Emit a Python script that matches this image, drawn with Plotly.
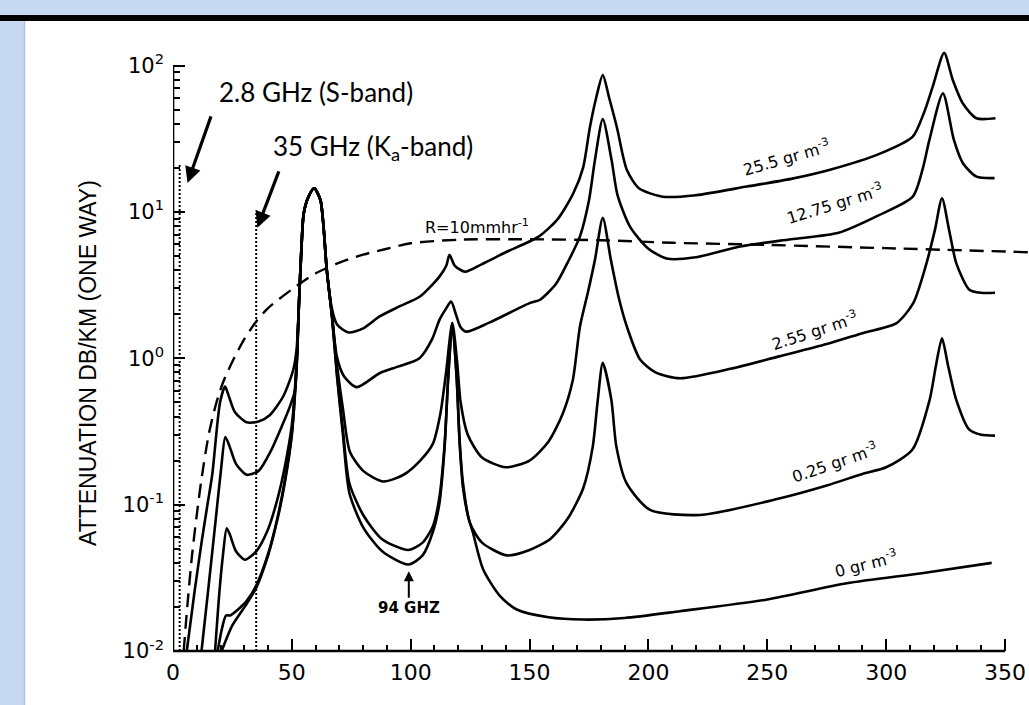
import plotly.graph_objects as go

# ---------------- data ----------------
# Rain, R = 10 mm/hr (dashed)
freq_rain = [4.5, 6, 8, 10, 12, 15, 18, 21, 25, 30, 35, 40, 50, 60, 70, 80, 90, 100, 120, 150, 180, 210, 250, 300, 360]
att_rain = [0.01, 0.02, 0.045, 0.085, 0.15, 0.3, 0.48, 0.68, 0.95, 1.35, 1.78, 2.2, 2.95, 3.8, 4.5, 5.1, 5.6, 6.1, 6.45, 6.5, 6.4, 6.15, 5.95, 5.65, 5.3]

# 0 gr m^-3 (dry air)
freq_0 = [20.5, 25, 31, 35, 40, 44, 47, 50, 52, 53, 54, 55, 57, 59.4, 62, 63.2, 64.7, 66.8, 69, 71.5, 74.2,
          80, 88, 99, 105, 109.3, 112, 114.2, 115.8, 117.5, 119.3, 120.6, 122, 124, 126.1, 130.5, 137.6,
          144.6, 158, 172.6, 190, 213.3, 250, 283.4, 315, 344.4]
att_0 = [0.01, 0.015, 0.021, 0.027, 0.045, 0.08, 0.14, 0.3, 0.9, 2.4, 5.5, 9.8, 12.7, 14.5, 12.1, 8.4, 4.0, 2.0,
         0.75, 0.3, 0.12, 0.07, 0.048, 0.039, 0.045, 0.065, 0.1, 0.24, 0.75, 1.74, 0.75, 0.26, 0.13, 0.085,
         0.065, 0.036, 0.0237, 0.0192, 0.017, 0.0164, 0.0168, 0.0187, 0.0225, 0.029, 0.034, 0.04]

# 0.25 gr m^-3
freq_025 = [18.8, 20.5, 22.3, 24, 27, 31, 35, 40, 44, 47, 50, 52, 53, 54, 55, 57, 59.4, 62, 63.2, 64.7, 66.8,
            69, 71.5, 74.2, 80, 88, 99, 105, 109.3, 112, 114.2, 115.8, 117.5, 119.3, 120.6, 122, 124.9, 130,
            140.4, 150, 158.6, 166, 172.6, 176.6, 178.7, 180.8, 184.4, 186.5, 190.8, 200.7, 221.7, 255, 275,
            290, 300, 311, 318.3, 321, 323.5, 326, 329.5, 335, 340, 345.8]
att_025 = [0.01, 0.014, 0.0175, 0.0175, 0.019, 0.022, 0.028, 0.046, 0.082, 0.145, 0.31, 0.9, 2.4, 5.5, 9.8,
           12.7, 14.5, 12.1, 8.4, 4.0, 2.0, 0.78, 0.32, 0.14, 0.085, 0.058, 0.049, 0.055, 0.071, 0.11, 0.25,
           0.75, 1.74, 0.75, 0.27, 0.14, 0.075, 0.055, 0.045, 0.049, 0.058, 0.08, 0.13, 0.25, 0.52, 0.93,
           0.52, 0.25, 0.14, 0.092, 0.085, 0.11, 0.135, 0.162, 0.18, 0.237, 0.52, 0.9, 1.37, 0.9, 0.52,
           0.325, 0.3, 0.296]

# 2.55 gr m^-3
freq_255 = [17.7, 19.5, 21, 22.6, 24, 26.5, 30.3, 35, 40, 44, 47, 50, 52, 53, 54, 55, 57, 59.4, 62, 63.2,
            64.7, 66.8, 69, 71.5, 74.4, 80, 88.5, 97, 104, 109.3, 112.5, 114.8, 117.5, 119.5, 121, 124, 130,
            140, 150, 158, 164, 168.2, 171.2, 174.5, 177.5, 180.8, 184.2, 187.5, 190.9, 196.5, 203, 213.3,
            235, 255, 275, 290.4, 304.4, 311.4, 317, 320.5, 323.5, 326.5, 329.5, 335, 340, 345.8]
att_255 = [0.01, 0.025, 0.045, 0.069, 0.062, 0.048, 0.042, 0.048, 0.068, 0.11, 0.18, 0.35, 0.95, 2.4, 5.5,
           9.8, 12.7, 14.5, 12.1, 8.4, 4.0, 2.0, 0.9, 0.45, 0.23, 0.17, 0.144, 0.16, 0.2, 0.26, 0.42, 0.78,
           1.74, 0.95, 0.5, 0.3, 0.21, 0.18, 0.2, 0.27, 0.42, 0.71, 1.65, 2.8, 4.7, 9.1, 4.7, 2.6, 1.65, 0.98,
           0.8, 0.73, 0.85, 1.03, 1.25, 1.49, 1.74, 2.38, 4.47, 7.5, 12.4, 7.5, 4.47, 2.94, 2.8, 2.8]

# 12.75 gr m^-3
freq_1275 = [12, 15, 18, 20.3, 22, 23.8, 26.5, 31, 36, 41, 46, 49, 51.3, 52.3, 53, 54, 55, 57, 59.4, 62,
             63.2, 64.7, 66.8, 68.9, 72, 77.3, 86.9, 95, 103.7, 109, 112.1, 115, 117, 119, 120.8, 123.3,
             133, 150, 154.2, 161, 166, 171.2, 175, 177.5, 180.8, 184.5, 187, 192.3, 200, 207.7, 220, 238.5,
             260, 280, 297, 311.2, 315.5, 318.2, 323.9, 328.5, 332.3, 338, 345.6]
att_1275 = [0.01, 0.028, 0.08, 0.18, 0.29, 0.25, 0.19, 0.16, 0.17, 0.23, 0.35, 0.46, 0.6, 1.1, 2.4, 5.5, 9.8,
            12.7, 14.5, 12.1, 8.4, 4.0, 2.03, 1.03, 0.75, 0.635, 0.79, 0.88, 1.0, 1.35, 1.83, 2.2, 2.44, 2.0,
            1.65, 1.52, 1.75, 2.38, 2.5, 3.2, 4.5, 6.8, 12, 22.6, 43, 22.6, 13, 7.9, 5.6, 4.8, 4.9, 5.8, 6.5,
            7.2, 9.5, 12.7, 20, 31, 64.5, 31, 21.5, 17.4, 17]

# 25.5 gr m^-3
freq_255b = [5.8, 9, 12, 14.5, 16.5, 19.8, 21.9, 23.5, 26, 31, 36, 40.8, 46.4, 50.6, 52, 53, 54, 55, 57, 59.4,
             62, 63.2, 64.7, 66.8, 69, 73.8, 80, 86.9, 95, 103.9, 112, 115, 116.3, 118.5, 122.9, 130, 140,
             154, 162, 168.4, 172.5, 175.4, 178, 180.8, 183.5, 186.7, 190.9, 196, 206, 220, 241.4, 260, 276.4,
             297.4, 311.2, 316, 319.6, 324.4, 328, 332.3, 338, 346]
att_255b = [0.01, 0.025, 0.055, 0.1, 0.16, 0.5, 0.64, 0.55, 0.43, 0.365, 0.37, 0.41, 0.55, 0.835, 1.15, 2.4,
            5.5, 9.8, 12.7, 14.5, 12.1, 8.4, 4.0, 2.2, 1.7, 1.5, 1.6, 1.93, 2.25, 2.64, 3.6, 4.3, 5.1, 4.3,
            3.9, 4.4, 5.3, 6.8, 9, 13.4, 20, 38, 60, 86, 60, 38, 19.4, 14.5, 12.7, 13, 14.9, 16.8, 19.4, 25,
            32.7, 48, 71.7, 122, 80, 55, 43.6, 43.6]

series = [
    ("0 gr m-3", freq_0, att_0),
    ("0.25 gr m-3", freq_025, att_025),
    ("2.55 gr m-3", freq_255, att_255),
    ("12.75 gr m-3", freq_1275, att_1275),
    ("25.5 gr m-3", freq_255b, att_255b),
]

x_ticks = [0, 50, 100, 150, 200, 250, 300, 350]
x_minor = [v for v in range(10, 350, 10) if v % 50 != 0]
y_ticks = [0.01, 0.1, 1, 10, 100]
y_ticktext = ["10<sup>-2</sup>", "10<sup>-1</sup>", "10<sup>0</sup>", "10<sup>1</sup>", "10<sup>2</sup>"]
y_minor = [m * d for d in [0.01, 0.1, 1, 10] for m in range(2, 10)]

# radar frequency markers: (frequency GHz, top of dotted line dB/km)
radar_marks = [(2.8, 21.6), (35, 10.2)]

# curve labels: text, frequency, log10(attenuation), angle
curve_labels = [
    ("25.5 gr m<sup>-3</sup>", 258.0, 1.37, -16),
    ("12.75 gr m<sup>-3</sup>", 278.3, 1.06, -17),
    ("2.55 gr m<sup>-3</sup>", 270.0, 0.19, -18),
    ("0.25 gr m<sup>-3</sup>", 278.3, -0.71, -19),
    ("0 gr m<sup>-3</sup>", 291.7, -1.40, -14),
]

# ---------------- figure ----------------
W, H = 1029, 705
ML, MR, MT, MB = 173, 0, 21, 54
X_MAX = 360.1
Y_LOG_RANGE = [-2, 2.304]
BLUE = "#C6D9F1"

fig = go.Figure()

for name, f, a in series:
    fig.add_trace(go.Scatter(x=f, y=a, mode="lines", name=name,
                             line=dict(color="black", width=2.6, shape="spline", smoothing=0.7)))

fig.add_trace(go.Scatter(x=freq_rain, y=att_rain, mode="lines", name="R=10 mm/hr",
                         line=dict(color="black", width=2.4, dash="14px,8px", shape="spline", smoothing=0.8)))

fig.update_layout(
    width=W, height=H, autosize=False,
    margin=dict(l=ML, r=MR, t=MT, b=MB, pad=0),
    paper_bgcolor="white", plot_bgcolor="white",
    showlegend=False,
    xaxis=dict(range=[0, X_MAX], showgrid=False, zeroline=False, showline=False,
               tickmode="array", tickvals=x_ticks, ticks="inside", ticklen=12, tickwidth=2,
               tickcolor="black", ticklabelstandoff=6,
               tickfont=dict(family="DejaVu Sans", size=22, color="black"),
               minor=dict(tickmode="array", tickvals=x_minor, ticks="inside", ticklen=6,
                          tickwidth=2, tickcolor="black", showgrid=False)),
    yaxis=dict(type="log", range=Y_LOG_RANGE, showgrid=False, zeroline=False, showline=False,
               tickmode="array", tickvals=y_ticks, ticktext=y_ticktext, ticks="inside", ticklen=12,
               tickwidth=2, tickcolor="black", ticklabelstandoff=8,
               tickfont=dict(family="DejaVu Sans", size=21, color="black"),
               minor=dict(tickmode="array", tickvals=y_minor, ticks="inside", ticklen=7,
                          tickwidth=2, tickcolor="black", showgrid=False)),
)

plot_w = W - ML - MR
plot_h = H - MT - MB


def px_to_paper_x(px):
    return (px - ML) / plot_w


def px_to_paper_y(py):
    return (H - MB - py) / plot_h


ydom_top = (2 - Y_LOG_RANGE[0]) / (Y_LOG_RANGE[1] - Y_LOG_RANGE[0])

shapes = [
    # background frame
    dict(type="rect", xref="paper", yref="paper", x0=px_to_paper_x(0), x1=px_to_paper_x(W),
         y0=px_to_paper_y(15), y1=px_to_paper_y(0), fillcolor=BLUE, line=dict(width=0), layer="below"),
    dict(type="rect", xref="paper", yref="paper", x0=px_to_paper_x(0), x1=px_to_paper_x(W),
         y0=px_to_paper_y(21), y1=px_to_paper_y(15), fillcolor="black", line=dict(width=0), layer="above"),
    dict(type="rect", xref="paper", yref="paper", x0=px_to_paper_x(0), x1=px_to_paper_x(24),
         y0=px_to_paper_y(H), y1=px_to_paper_y(21), fillcolor=BLUE, line=dict(width=0), layer="below"),
    dict(type="line", xref="paper", yref="paper", x0=px_to_paper_x(24.5), x1=px_to_paper_x(24.5),
         y0=px_to_paper_y(H), y1=px_to_paper_y(21), line=dict(color="#AFC4DD", width=1.5), layer="below"),
    # axis lines
    dict(type="line", xref="x", yref="y domain", x0=0, x1=350, y0=0, y1=0,
         line=dict(color="black", width=2.6)),
    dict(type="line", xref="x", yref="y domain", x0=0, x1=0, y0=0, y1=ydom_top,
         line=dict(color="black", width=2.6)),
]
for fx, top in radar_marks:
    shapes.append(dict(type="line", xref="x", yref="y", x0=fx, x1=fx, y0=0.01, y1=top,
                       line=dict(color="black", width=2, dash="2px,2px")))
fig.update_layout(shapes=shapes)

ann_font = dict(family="Lato", size=26, color="black")
label_font = dict(family="DejaVu Sans", size=16, color="black")

annotations = [
    dict(x=18.7, y=1.819, xref="x", yref="y", text="2.8 GHz (S-band)", showarrow=False,
         xanchor="left", yanchor="middle", font=ann_font),
    dict(x=41.4, y=1.44, xref="x", yref="y", text="35 GHz (K<sub>a</sub>-band)", showarrow=False,
         xanchor="left", yanchor="middle", font=ann_font),
    dict(x=6.1, y=1.198, xref="x", yref="y", text="", showarrow=True, arrowhead=2, arrowsize=1,
         arrowwidth=3.2, arrowcolor="black", ax=24, ay=-68),
    dict(x=35.5, y=0.891, xref="x", yref="y", text="", showarrow=True, arrowhead=2, arrowsize=1,
         arrowwidth=3.2, arrowcolor="black", ax=22, ay=-58),
    dict(x=128.0, y=0.898, xref="x", yref="y", text="R=10mmhr<sup>-1</sup>", showarrow=False,
         xanchor="center", yanchor="middle", font=label_font),
    dict(x=99.2, y=-1.455, xref="x", yref="y", text="<b>94 GHZ</b>", showarrow=True, arrowhead=2,
         arrowsize=1, arrowwidth=2, arrowcolor="black", ax=0, ay=37,
         font=dict(family="DejaVu Sans", size=15, color="black")),
    dict(x=px_to_paper_x(88), y=px_to_paper_y(363), xref="paper", yref="paper",
         text="ATTENUATION DB/KM (ONE WAY)", textangle=-90, showarrow=False,
         xanchor="center", yanchor="middle", font=dict(family="Liberation Sans", size=23, color="black")),
    dict(x=px_to_paper_x(643), y=px_to_paper_y(699), xref="paper", yref="paper",
         text="FREQUENCY (GHZ)", showarrow=False, xanchor="center", yanchor="top",
         font=dict(family="Liberation Sans", size=22, color="black")),
]
for txt, fx, ly, ang in curve_labels:
    annotations.append(dict(x=fx, y=ly, xref="x", yref="y", text=txt, showarrow=False, textangle=ang,
                            xanchor="center", yanchor="middle", font=label_font))
fig.update_layout(annotations=annotations)

fig.write_html("out.html")
